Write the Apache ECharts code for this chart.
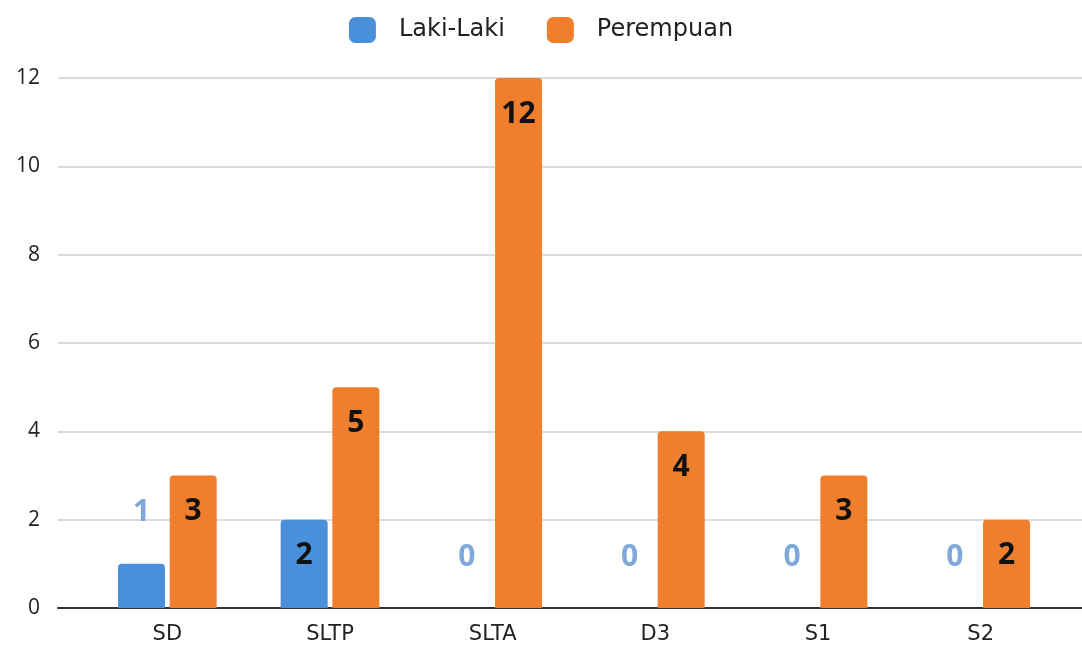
<!DOCTYPE html>
<html>
<head>
<meta charset="utf-8">
<script src="https://cdn.jsdelivr.net/npm/echarts@6/dist/echarts.min.js"></script>
<style>
	html, body { margin: 0; padding: 0; background: #fff; }
	#chart { width: 1082px; height: 651px; }
</style>
</head>
<body>
<div id="chart"></div>
<script>
const categories = ["SD", "SLTP", "SLTA", "D3", "S1", "S2"]
const lakiLaki = [1, 2, 0, 0, 0, 0]
const perempuan = [3, 5, 12, 4, 3, 2]
const yTicks = { min: 0, max: 12, interval: 2 }

const blue = "#4a8fd9"
const orange = "#ef7f2c"
const labelFont = "Open Sans"
const textFont = "DejaVu Sans"

// small bars keep their label above, in a pale blue
const lakiData = lakiLaki.map((v) => {
	if (v < 2) {
		return {
			value: v,
			label: { position: "top", distance: 36, color: "#7fa9d8" },
		}
	}
	return v
})

const chart = echarts.init(document.getElementById("chart"))
chart.setOption({
	animation: false,
	textStyle: { fontFamily: labelFont },
	legend: {
		top: 12,
		left: "center",
		itemWidth: 27,
		itemHeight: 26,
		itemGap: 42,
		icon: "roundRect",
		textStyle: { fontSize: 24, color: "#222", fontFamily: textFont, padding: [0, 0, 0, 18] },
		data: ["Laki-Laki", "Perempuan"],
	},
	grid: [
		{ left: 58, right: 0, top: 78, bottom: 43 },
		{ left: 86, right: 20, top: 78, bottom: 43 },
	],
	xAxis: [
		{
			gridIndex: 0,
			type: "value",
			min: 0,
			max: 1,
			axisLine: { show: true, onZero: false, lineStyle: { color: "#333", width: 2 } },
			axisTick: { show: false },
			axisLabel: { show: false },
			splitLine: { show: false },
		},
		{
			gridIndex: 1,
			type: "category",
			data: categories,
			axisLine: { show: false },
			axisTick: { show: false },
			axisLabel: { fontSize: 21, color: "#222", margin: 16, fontFamily: textFont },
		},
	],
	yAxis: [
		{
			gridIndex: 0,
			type: "value",
			min: yTicks.min,
			max: yTicks.max,
			interval: yTicks.interval,
			axisLine: { show: false },
			axisTick: { show: false },
			axisLabel: { fontSize: 21, color: "#222", margin: 18 },
			splitLine: { lineStyle: { color: "#cfcfcf", width: 1.5 } },
		},
		{
			gridIndex: 1,
			type: "value",
			min: yTicks.min,
			max: yTicks.max,
			interval: yTicks.interval,
			show: false,
		},
	],
	series: [
		{
			name: "Laki-Laki",
			type: "bar",
			xAxisIndex: 1,
			yAxisIndex: 1,
			data: lakiData,
			barWidth: 47,
			barGap: "10%",
			itemStyle: { color: blue, borderRadius: [4, 4, 0, 0] },
			label: {
				show: true,
				position: "insideTop",
				distance: 21,
				fontSize: 30,
				fontWeight: "bold",
				color: "#111",
			},
		},
		{
			name: "Perempuan",
			type: "bar",
			xAxisIndex: 1,
			yAxisIndex: 1,
			data: perempuan,
			barWidth: 47,
			itemStyle: { color: orange, borderRadius: [4, 4, 0, 0] },
			label: {
				show: true,
				position: "insideTop",
				distance: 21,
				fontSize: 30,
				fontWeight: "bold",
				color: "#111",
			},
		},
	],
})
</script>
</body>
</html>
